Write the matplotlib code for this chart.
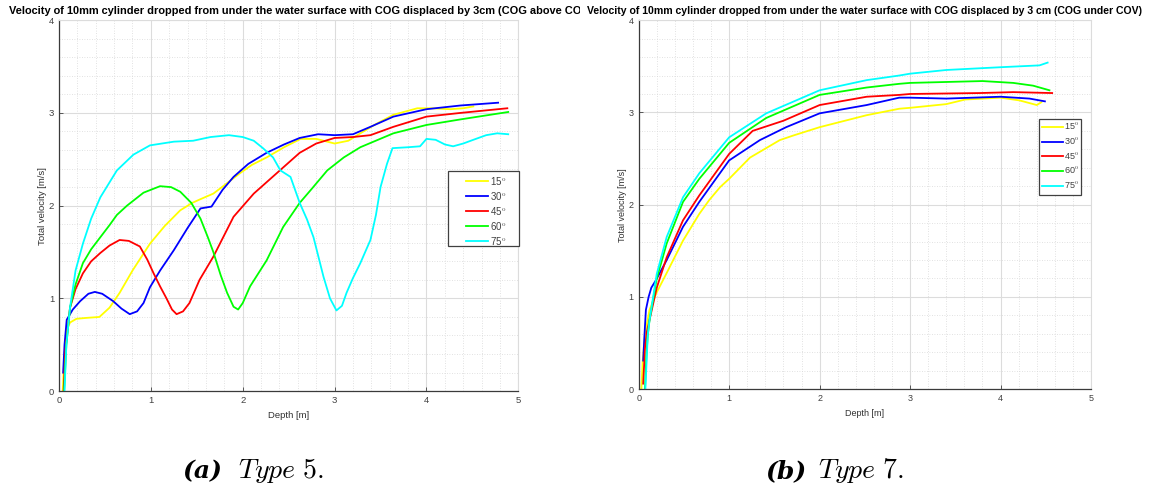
import matplotlib.pyplot as plt
from matplotlib.ticker import MultipleLocator
from matplotlib.patches import Rectangle
from matplotlib.transforms import Bbox, TransformedBbox

# Type 5 (COG above COV): depth [m] and total velocity [m/s] per release angle
a15_x = [0.04, 0.06, 0.084, 0.12, 0.19, 0.3, 0.44, 0.55, 0.66, 0.8, 0.99, 1.15, 1.32, 1.45, 1.54, 1.68, 1.8, 1.97, 2.1, 2.26, 2.45, 2.63, 2.8, 3.0, 3.15, 3.28, 3.45, 3.64, 3.9, 4.07, 4.26, 4.4, 4.51]
a15_y = [0.0, 0.4, 0.66, 0.74, 0.78, 0.79, 0.8, 0.9, 1.06, 1.3, 1.59, 1.78, 1.95, 2.03, 2.07, 2.13, 2.22, 2.35, 2.44, 2.52, 2.63, 2.72, 2.72, 2.67, 2.7, 2.78, 2.88, 2.98, 3.05, 3.05, 3.04, 3.05, 3.07]

a30_x = [0.045, 0.06, 0.084, 0.15, 0.23, 0.32, 0.39, 0.47, 0.59, 0.68, 0.77, 0.85, 0.92, 0.99, 1.1, 1.25, 1.4, 1.54, 1.66, 1.78, 1.9, 2.06, 2.26, 2.45, 2.62, 2.82, 3.0, 3.2, 3.39, 3.64, 4.0, 4.37, 4.78]
a30_y = [0.2, 0.5, 0.77, 0.88, 0.97, 1.05, 1.07, 1.05, 0.97, 0.89, 0.83, 0.86, 0.95, 1.12, 1.3, 1.52, 1.76, 1.97, 1.99, 2.17, 2.31, 2.45, 2.57, 2.66, 2.73, 2.77, 2.76, 2.77, 2.85, 2.96, 3.04, 3.08, 3.11]

a45_x = [0.05, 0.07, 0.12, 0.18, 0.26, 0.35, 0.45, 0.55, 0.66, 0.76, 0.88, 0.96, 1.03, 1.1, 1.17, 1.23, 1.28, 1.35, 1.42, 1.53, 1.68, 1.9, 2.12, 2.37, 2.62, 2.8, 3.0, 3.2, 3.39, 3.64, 4.0, 4.37, 4.88]
a45_y = [0.0, 0.45, 0.9, 1.1, 1.27, 1.4, 1.49, 1.57, 1.63, 1.62, 1.56, 1.42, 1.27, 1.13, 1.0, 0.88, 0.83, 0.86, 0.95, 1.2, 1.45, 1.88, 2.13, 2.35, 2.57, 2.67, 2.73, 2.74, 2.76, 2.85, 2.96, 3.0, 3.05]

a60_x = [0.055, 0.08, 0.12, 0.18, 0.26, 0.35, 0.45, 0.55, 0.63, 0.74, 0.92, 1.1, 1.22, 1.32, 1.44, 1.54, 1.62, 1.68, 1.76, 1.83, 1.9, 1.95, 2.0, 2.08, 2.26, 2.44, 2.62, 2.75, 2.92, 3.1, 3.28, 3.64, 4.0, 4.37, 4.89]
a60_y = [0.0, 0.5, 0.9, 1.15, 1.38, 1.53, 1.66, 1.79, 1.9, 2.0, 2.14, 2.21, 2.2, 2.15, 2.03, 1.86, 1.66, 1.5, 1.25, 1.06, 0.91, 0.88, 0.95, 1.13, 1.41, 1.77, 2.03, 2.18, 2.38, 2.52, 2.63, 2.78, 2.87, 2.93, 3.01]

a75_x = [0.06, 0.08, 0.12, 0.18, 0.26, 0.35, 0.45, 0.63, 0.81, 0.99, 1.25, 1.46, 1.65, 1.85, 2.0, 2.12, 2.22, 2.33, 2.41, 2.52, 2.62, 2.7, 2.77, 2.88, 2.95, 3.02, 3.08, 3.13, 3.2, 3.28, 3.39, 3.45, 3.5, 3.57, 3.63, 3.8, 3.93, 4.0, 4.1, 4.2, 4.29, 4.4, 4.51, 4.65, 4.77, 4.89]
a75_y = [0.0, 0.5, 0.9, 1.3, 1.59, 1.86, 2.09, 2.38, 2.55, 2.65, 2.69, 2.7, 2.74, 2.76, 2.74, 2.7, 2.62, 2.52, 2.38, 2.31, 2.03, 1.85, 1.66, 1.23, 1.0, 0.87, 0.92, 1.06, 1.22, 1.38, 1.63, 1.9, 2.2, 2.45, 2.62, 2.63, 2.64, 2.72, 2.71, 2.66, 2.64, 2.67, 2.71, 2.76, 2.78, 2.77]

# Type 7 (COG under COV)
b15_x = [0.03, 0.045, 0.07, 0.12, 0.2, 0.31, 0.49, 0.67, 0.78, 0.9, 1.0, 1.23, 1.56, 1.71, 2.0, 2.52, 2.88, 3.0, 3.4, 3.61, 4.0, 4.21, 4.4, 4.45]
b15_y = [0.0, 0.31, 0.6, 0.86, 1.05, 1.26, 1.61, 1.9, 2.05, 2.19, 2.28, 2.51, 2.7, 2.75, 2.84, 2.97, 3.04, 3.05, 3.09, 3.14, 3.16, 3.13, 3.08, 3.11]

b30_x = [0.05, 0.065, 0.08, 0.11, 0.14, 0.19, 0.31, 0.49, 0.67, 1.0, 1.34, 1.63, 2.0, 2.52, 2.88, 3.0, 3.4, 4.0, 4.32, 4.49]
b30_y = [0.31, 0.6, 0.86, 1.0, 1.1, 1.18, 1.4, 1.76, 2.03, 2.48, 2.7, 2.84, 2.99, 3.08, 3.16, 3.16, 3.15, 3.17, 3.15, 3.12]

b45_x = [0.05, 0.07, 0.09, 0.12, 0.2, 0.31, 0.49, 0.67, 1.0, 1.26, 1.6, 2.0, 2.52, 2.88, 3.0, 3.77, 4.14, 4.57]
b45_y = [0.06, 0.45, 0.62, 0.75, 1.1, 1.43, 1.83, 2.1, 2.55, 2.8, 2.91, 3.08, 3.17, 3.19, 3.2, 3.21, 3.22, 3.21]

b60_x = [0.07, 0.085, 0.1, 0.12, 0.2, 0.31, 0.49, 0.67, 1.0, 1.41, 2.0, 2.52, 2.88, 3.0, 3.4, 3.8, 4.14, 4.36, 4.54]
b60_y = [0.0, 0.35, 0.58, 0.75, 1.2, 1.58, 2.03, 2.28, 2.67, 2.94, 3.19, 3.27, 3.31, 3.32, 3.33, 3.34, 3.32, 3.29, 3.24]

b75_x = [0.074, 0.09, 0.1, 0.12, 0.2, 0.31, 0.49, 0.67, 1.0, 1.41, 2.0, 2.52, 2.88, 3.0, 3.4, 4.0, 4.43, 4.52]
b75_y = [0.0, 0.35, 0.58, 0.75, 1.25, 1.65, 2.08, 2.34, 2.73, 2.99, 3.24, 3.35, 3.4, 3.42, 3.46, 3.49, 3.51, 3.54]

angles = ['15', '30', '45', '60', '75']
colors = ['#ffff00', '#0000ff', '#ff0000', '#00ff00', '#00ffff']

left_series = [(a15_x, a15_y), (a30_x, a30_y), (a45_x, a45_y), (a60_x, a60_y), (a75_x, a75_y)]
right_series = [(b15_x, b15_y), (b30_x, b30_y), (b45_x, b45_y), (b60_x, b60_y), (b75_x, b75_y)]

title_a = 'Velocity of 10mm cylinder dropped from under the water surface with COG displaced by 3cm (COG above COV)'
title_b = 'Velocity of 10mm cylinder dropped from under the water surface with COG displaced by 3 cm (COG under COV)'

plt.rcParams['font.family'] = ['Liberation Sans', 'DejaVu Sans']
plt.rcParams['mathtext.fontset'] = 'cm'

fig = plt.figure(figsize=(11.57, 4.92), dpi=100)
ax1 = fig.add_axes([0.051, 0.205, 0.397, 0.754])
ax2 = fig.add_axes([0.552, 0.209, 0.391, 0.750])


def style_axes(ax, series, fs, leg_xy, leg_box, leg_fs, handle_len, leg_space):
    for (x, y), c, a in zip(series, colors, angles):
        ax.plot(x, y, color=c, lw=1.3, label=a + r'$^{\mathrm{o}}$')
    ax.set_xlim(0, 5)
    ax.set_ylim(0, 4)
    ax.xaxis.set_major_locator(MultipleLocator(1))
    ax.yaxis.set_major_locator(MultipleLocator(1))
    ax.xaxis.set_minor_locator(MultipleLocator(0.2))
    ax.yaxis.set_minor_locator(MultipleLocator(0.2))
    ax.grid(which='major', color='#dcdcdc', lw=0.8)
    ax.grid(which='minor', color='#d8d8d8', lw=0.6, ls=(0, (1, 2)))
    ax.set_axisbelow(True)
    ax.tick_params(which='both', direction='in', labelsize=fs, labelcolor='#404040', color='#404040')
    ax.tick_params(which='minor', length=0)
    ax.tick_params(which='major', length=3, width=0.6)
    for s in ['left', 'bottom']:
        ax.spines[s].set_color('#3a3a3a')
        ax.spines[s].set_linewidth(0.9)
    for s in ['top', 'right']:
        ax.spines[s].set_color('#dcdcdc')
        ax.spines[s].set_linewidth(0.8)
    ax.set_xlabel('Depth [m]', fontsize=fs, color='#303030', labelpad=4)
    ax.set_ylabel('Total velocity [m/s]', fontsize=fs, color='#303030', labelpad=1)

    # legend entries without a frame, the box is drawn on its own
    leg = ax.legend(loc='upper left', bbox_to_anchor=leg_xy, fontsize=leg_fs,
                    frameon=False, handlelength=handle_len, handletextpad=0.15,
                    labelspacing=leg_space, borderpad=0, borderaxespad=0)
    for txt in leg.get_texts():
        txt.set_color('#404040')
    x0, y0, x1, y1 = leg_box
    ax.add_patch(Rectangle((x0, y0), x1 - x0, y1 - y0, transform=ax.transAxes,
                           fill=True, facecolor='white', edgecolor='#404040',
                           lw=0.9, clip_on=False, zorder=4))
    leg.set_zorder(5)


style_axes(ax1, left_series, 6.8, (0.885, 0.583), (0.847, 0.391, 1.002, 0.593), 7.0, 2.35, 0.3)
style_axes(ax2, right_series, 6.5, (0.892, 0.725), (0.885, 0.526, 0.978, 0.732), 6.5, 2.3, 0.45)

ax2.set_title(title_b, fontsize=7.6, fontweight='bold', pad=4.5)

# the long left title runs into the right panel and is cut at the half-way line
t1 = fig.text(9 / 1157, 1 - 11 / 492, title_a, fontsize=7.95, fontweight='bold',
              ha='left', va='center')
t1.set_clip_on(True)
t1.set_clip_box(TransformedBbox(Bbox([[0, 0], [580 / 1157, 1]]), fig.transFigure))

cap_y = 1 - 478 / 492
fig.text(182 / 1157, cap_y, '(a)', fontsize=18, family='DejaVu Serif', style='italic',
         fontweight='bold', ha='left', va='baseline')
fig.text(238 / 1157, cap_y, r'$\mathit{Type\ 5.}$', fontsize=20, ha='left', va='baseline')
fig.text(765 / 1157, cap_y, '(b)', fontsize=18, family='DejaVu Serif', style='italic',
         fontweight='bold', ha='left', va='baseline')
fig.text(818 / 1157, cap_y, r'$\mathit{Type\ 7.}$', fontsize=20, ha='left', va='baseline')

fig.savefig('out.png', dpi=100)
